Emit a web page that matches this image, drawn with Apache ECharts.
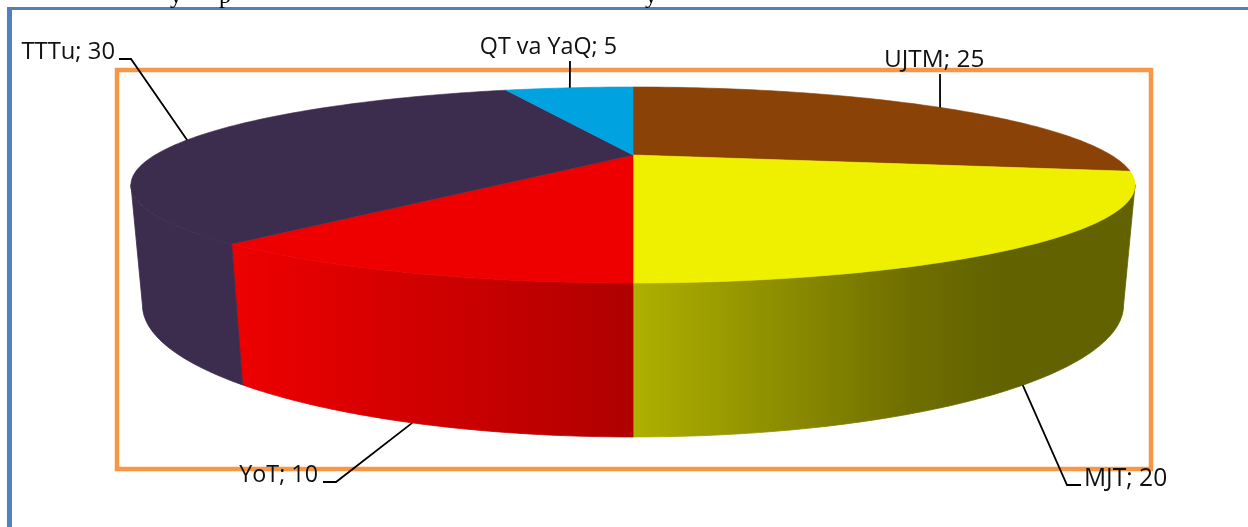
<!DOCTYPE html>
<html><head><meta charset="utf-8">
<style>html,body{margin:0;padding:0;background:#fff}#c{width:1248px;height:527px}</style>
<script src="https://cdn.jsdelivr.net/npm/echarts@6/dist/echarts.min.js"></script>
</head><body><div id="c"></div>
<script>
// Data, clockwise from 12 o'clock
const categories = ['UJTM', 'MJT', 'YoT', 'TTTu', 'QT va YaQ'];
const values = [25, 20, 10, 30, 5];
const total = values.reduce((a, b) => a + b, 0);

// Palette
const topColors = ['#8a4207', '#efef00', '#ee0000', '#3c2c4d', '#00a3e0'];
const wallStops = [
  [[0, '#8a4207'], [1, '#8a4207']],
  [[0, '#afb000'], [0.75, '#6f6f00'], [1, '#626200']],
  [[0, '#ee0000'], [1, '#b00000']],
  [[0, '#3c2c4d'], [1, '#3c2c4d']],
  [[0, '#00a3e0'], [1, '#00a3e0']]
];
const wallGradientX = [[633, 1135], [633, 1000], [233, 633], [132, 500], [500, 633]];

// Perspective of the disc: plane homography fitted to the picture
const cx = 633;
const topPlane = { A: 478, a: 41.4, b: 155, c: -0.306, w: 1 };
const botPlane = { A: 478, a: 41.4, b: 271.2, c: -0.306, w: 1.0214 };
const visibleFrom = 107.6, visibleTo = 252.4; // the part of the rim that faces the viewer
function project(p, deg) {
  const r = deg * Math.PI / 180, t = -Math.cos(r), s = Math.sin(r);
  const d = p.w + p.c * t;
  return [cx + p.A * s / d, (p.a * t + p.b) / d];
}
function arc(p, from, to, step) {
  const pts = [], n = Math.max(2, Math.ceil(Math.abs(to - from) / (step || 1)));
  for (let i = 0; i <= n; i++) pts.push(project(p, from + (to - from) * i / n));
  return pts;
}
const startAngles = [];
values.reduce((acc, v) => { startAngles.push(acc); return acc + v / total * 360; }, 0);

// Label layout: text anchor, elbow and end of each leader line, and where it meets the disc
const labelBox = [
  { x: 884, y: 60, size: 24.4, align: 'left', elbow: null, end: [940, 74], rim: [940, 107] },
  { x: 1084, y: 479, size: 24.6, align: 'left', elbow: [1067, 485], end: [1081, 485], rim: [1023, 385], wall: true },
  { x: 318, y: 475, size: 23.3, align: 'right', elbow: [336, 482], end: [323, 482], rim: [412, 423], wall: true },
  { x: 115, y: 52, size: 23.8, align: 'right', elbow: [131, 59], end: [119, 59], rim: [187, 140] },
  { x: 617, y: 47, size: 23.3, align: 'right', elbow: null, end: [570, 61], rim: [570, 88] }
];
function rimPoint(i) {
  const b = labelBox[i], p = b.wall ? botPlane : topPlane;
  const a0 = startAngles[i], a1 = a0 + values[i] / total * 360;
  let best = null, bd = 1e9;
  arc(p, a0, a1, 0.1).forEach(q => {
    const d = Math.hypot(q[0] - b.rim[0], q[1] - b.rim[1]);
    if (d < bd) { bd = d; best = q; }
  });
  return best;
}

const fontFamily = '"Open Sans", "Noto Sans", sans-serif';
function renderSlice(params, api) {
  const i = params.dataIndex;
  const a0 = Math.max(startAngles[i], visibleFrom);
  const a1 = Math.min(startAngles[i] + api.value(1) / total * 360, visibleTo);
  if (a1 <= a0) return null;
  const g = wallGradientX[i];
  const fill = new echarts.graphic.LinearGradient(g[0], 0, g[1], 0, wallStops[i].map(s => ({ offset: s[0], color: s[1] })), true);
  return {
    type: 'polygon',
    shape: { points: arc(topPlane, a0, a1).concat(arc(botPlane, a0, a1).reverse()) },
    style: { fill: fill, stroke: fill, lineWidth: 0.8 }
  };
}
function renderTop(params, api) {
  const i = params.dataIndex;
  const a0 = startAngles[i], a1 = a0 + api.value(1) / total * 360;
  const pts = [[cx, topPlane.b]].concat(arc(topPlane, a0, a1));
  return { type: 'polygon', shape: { points: pts }, style: { fill: topColors[i], stroke: topColors[i], lineWidth: 0.6 } };
}
function renderLabel(params, api) {
  const i = params.dataIndex, b = labelBox[i];
  const line = [rimPoint(i)];
  if (b.elbow) line.push(b.elbow);
  line.push(b.end);
  return {
    type: 'group',
    children: [
      { type: 'polyline', shape: { points: line }, style: { stroke: '#000', lineWidth: 1.8, fill: null } },
      { type: 'text', style: { x: b.x, y: b.y, text: categories[i] + '; ' + api.value(1), align: b.align, verticalAlign: 'middle', font: b.size + 'px ' + fontFamily, fill: '#111' } }
    ]
  };
}
const seriesData = categories.map((c, i) => ({ name: c, value: [i, values[i]] }));
const clipped = [['y', 170, -15], ['p', 219, -15], ['y', 645, -15]];
const chart = echarts.init(document.getElementById('c'), null, { renderer: 'canvas' });
chart.setOption({
  animation: false,
  graphic: [
    { type: 'rect', z: 0, shape: { x: 7, y: 7, width: 1241, height: 3 }, style: { fill: '#4f81bd' } },
    { type: 'rect', z: 0, shape: { x: 7, y: 7, width: 5, height: 520 }, style: { fill: '#4f81bd' } },
    { type: 'rect', z: 0, shape: { x: 117, y: 70, width: 1034, height: 399 }, style: { fill: null, stroke: '#f79646', lineWidth: 4.5 } }
  ].concat(clipped.map(t => ({ type: 'text', z: 0, style: { x: t[1], y: t[2], text: t[0], font: '24px "Liberation Serif", serif', fill: '#000' } }))),
  series: [
    { type: 'custom', coordinateSystem: 'none', z: 2, data: seriesData, renderItem: renderSlice, silent: true },
    { type: 'custom', coordinateSystem: 'none', z: 3, data: seriesData, renderItem: renderTop, silent: true },
    { type: 'custom', coordinateSystem: 'none', z: 4, data: seriesData, renderItem: renderLabel, silent: true }
  ]
});
</script></body></html>
